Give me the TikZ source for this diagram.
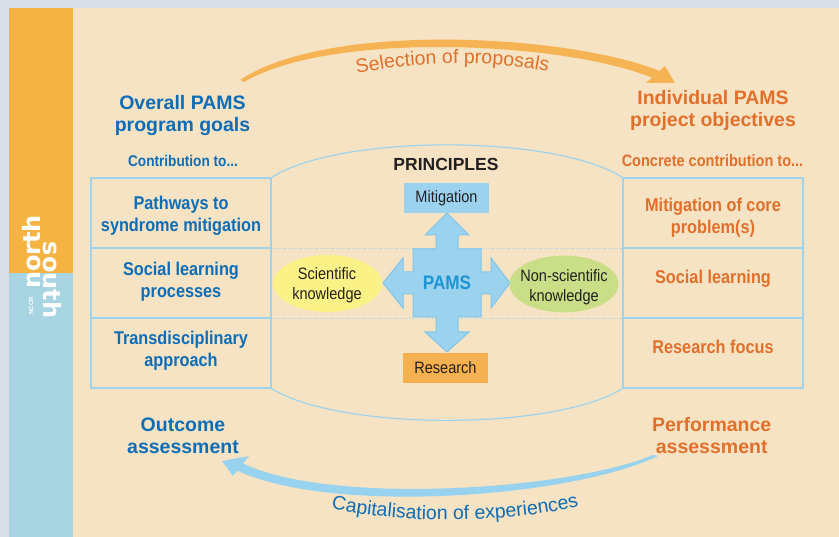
\documentclass[tikz,border=0pt]{standalone}
\usepackage{fontspec}
\usepackage{graphicx}
\setmainfont{Liberation Sans}
\newfontfamily\condfont{Liberation Sans}[FakeStretch=0.88]
\newfontfamily\logofont{DejaVu Sans}
\usetikzlibrary{shapes.geometric,decorations.text}
\definecolor{bgout}{HTML}{D8DEE8}
\definecolor{beige}{HTML}{F6E3C4}
\definecolor{stripor}{HTML}{F5B342}
\definecolor{stripbl}{HTML}{A9D4E2}
\definecolor{linebl}{HTML}{9FD3EC}
\definecolor{txtblue}{HTML}{0E6DB7}
\definecolor{txtorange}{HTML}{E0702B}
\definecolor{txtdark}{HTML}{231F20}
\definecolor{crossfill}{HTML}{9BD3EF}
\definecolor{crossline}{HTML}{80C5E8}
\definecolor{pamsblue}{HTML}{1E94D3}
\definecolor{resorange}{HTML}{F5B04F}
\definecolor{sciyellow}{HTML}{FBF287}
\definecolor{nongreen}{HTML}{C9DE86}
\definecolor{arrorange}{HTML}{F6B354}
\definecolor{arrblue}{HTML}{97D2EF}
\begin{document}
\begin{tikzpicture}[x=1pt,y=-1pt,
  heading/.style={align=center, font=\bfseries\fontsize{19.5}{22}\selectfont, inner sep=0pt},
  celltext/.style={align=center, font=\condfont\bfseries\fontsize{18.5}{22}\selectfont, inner sep=0pt},
  sublabel/.style={font=\condfont\bfseries\fontsize{15.5}{18}\selectfont, inner sep=0pt},
  cellbox/.style={draw=linebl, line width=1.2pt, minimum width=180pt, minimum height=70pt, inner sep=0pt},
  principle/.style={minimum width=85pt, minimum height=30pt, inner sep=0pt, text=txtdark, font=\condfont\fontsize{16.5}{19.5}\selectfont},
  knowledge/.style={ellipse, minimum width=109pt, minimum height=57pt, inner sep=0pt},
  knowtext/.style={align=center, inner sep=0pt, text=txtdark, font=\condfont\fontsize{16.5}{19.5}\selectfont},
  logotext/.style={text=white, inner sep=0pt, font=\logofont\bfseries\fontsize{24}{24}\selectfont}
]
\useasboundingbox (0,0) rectangle (839,537);
% backgrounds
\fill[bgout] (0,0) rectangle (839,537);
\fill[beige] (73,8) rectangle (839,537);
\fill[stripor] (9,8) rectangle (73,273);
\fill[stripbl] (9,273) rectangle (73,537);
% logo
\node[logotext, rotate=90, anchor=base] (north) at (40,252) {north};
\node[logotext, rotate=-90, anchor=base] (south) at (43,280) {south};
\node[rotate=90, text=white, inner sep=0pt, font=\bfseries\fontsize{6}{6}\selectfont] (nccr) at (31,306) {NCCR};
% table cells
\node[cellbox] (l1) at (181,213) {};
\node[cellbox] (l2) at (181,283) {};
\node[cellbox] (l3) at (181,353) {};
\node[cellbox] (r1) at (713,213) {};
\node[cellbox] (r2) at (713,283) {};
\node[cellbox] (r3) at (713,353) {};
% barrel
\draw[linebl, line width=1.2pt] (l1.north east) .. controls (340,134) and (554,134) .. (r1.north west);
\draw[linebl, line width=1.2pt] (l3.south east) .. controls (340,431) and (554,431) .. (r3.south west);
\draw[linebl, dotted, line width=1.2pt] (l1.south east) -- (r1.south west);
\draw[linebl, dotted, line width=1.2pt] (l2.south east) -- (r2.south west);
% cell texts
\node[celltext, text=txtblue] (t1) at (181,216.2) {Pathways to\\syndrome mitigation};
\node[celltext, text=txtblue] (t2) at (181,281.7) {Social learning\\processes};
\node[celltext, text=txtblue] (t3) at (181,351) {Transdisciplinary\\approach};
\node[celltext, text=txtorange] (u1) at (713,217.5) {Mitigation of core\\problem(s)};
\node[celltext, text=txtorange, anchor=base] (u2) at (713,283.3) {Social learning};
\node[celltext, text=txtorange, anchor=base] (u3) at (713,354) {Research focus};
% sub labels
\node[sublabel, text=txtblue, anchor=base] (contrib) at (183,167) {Contribution to...};
\node[sublabel, text=txtorange, anchor=base, font=\condfont\bfseries\fontsize{16.5}{18}\selectfont] (concrete) at (712.5,167) {Concrete contribution to...};
% headings
\node[heading, text=txtblue] (overall) at (182.5,116) {Overall PAMS\\program goals};
\node[heading, text=txtorange] (individual) at (713,110) {Individual PAMS\\project objectives};
\node[heading, text=txtblue] (outcome) at (183,436) {Outcome\\assessment};
\node[heading, text=txtorange] (performance) at (711.7,435.4) {Performance\\assessment};
% principles
\node[anchor=base, text=txtdark, inner sep=0pt, font=\bfseries\fontsize{17.5}{20}\selectfont] (principles) at (446,170.7) {PRINCIPLES};
\coordinate (cc) at (447,283);
\begin{scope}[shift={(cc)}]
\filldraw[fill=crossfill, draw=crossline, line width=1pt, line join=miter]
 (0,-70) -- (22,-48) -- (11,-48) -- (11,-34) -- (34,-34) -- (34,-11) -- (44,-11) -- (44,-25) -- (63,0)
 -- (44,25) -- (44,11) -- (34,11) -- (34,34) -- (11,34) -- (11,49) -- (22,49) -- (0,69)
 -- (-22,49) -- (-11,49) -- (-11,34) -- (-34,34) -- (-34,11) -- (-44,11) -- (-44,25) -- (-64,0)
 -- (-44,-25) -- (-44,-11) -- (-34,-11) -- (-34,-34) -- (-11,-34) -- (-11,-48) -- (-22,-48) -- cycle;
\end{scope}
\node[text=pamsblue, inner sep=0pt, font=\condfont\bfseries\fontsize{19.5}{22}\selectfont] (pams) at (cc) {PAMS};
\node[principle, fill=crossfill] (mitig) at (446.5,198) {Mitigation};
\node[principle, fill=resorange] (research) at (445.5,368) {Research};
\node[knowledge, fill=sciyellow] (sci) at (327.5,283.5) {};
\node[knowtext] (scitext) at (327,285) {Scientific\\knowledge};
\node[knowledge, fill=nongreen] (nonsci) at (564,284) {};
\node[knowtext] (nonscitext) at (564,287) {Non-scientific\\knowledge};
% top arrow
\fill[arrorange] (240,80) .. controls (330,20) and (575,35) .. (662,72) -- (655,79) .. controls (570,42) and (332,30) .. (244,82) -- cycle;
\fill[arrorange] (665,66) -- (675,83) -- (646,83) -- cycle;
\path[decorate, decoration={text along path, text align=center,
  text={|\fontsize{19.5}{22}\selectfont\color{txtorange}|Selection of proposals}}]
  (340,78) .. controls (405,60) and (500,58) .. (565,76);
% bottom arrow
\fill[arrblue] (658,456) .. controls (570,498) and (330,515) .. (236,470) -- (242,463) .. controls (330,506) and (570,490) .. (653,455) -- cycle;
\fill[arrblue] (222,461) -- (249,456) -- (233,476) -- cycle;
\path[decorate, decoration={text along path, text align=center,
  text={|\fontsize{19.5}{22}\selectfont\color{txtblue}|Capitalisation of experiences}}]
  (318,506) .. controls (400,525) and (510,525) .. (592,503);
\end{tikzpicture}
\end{document}
